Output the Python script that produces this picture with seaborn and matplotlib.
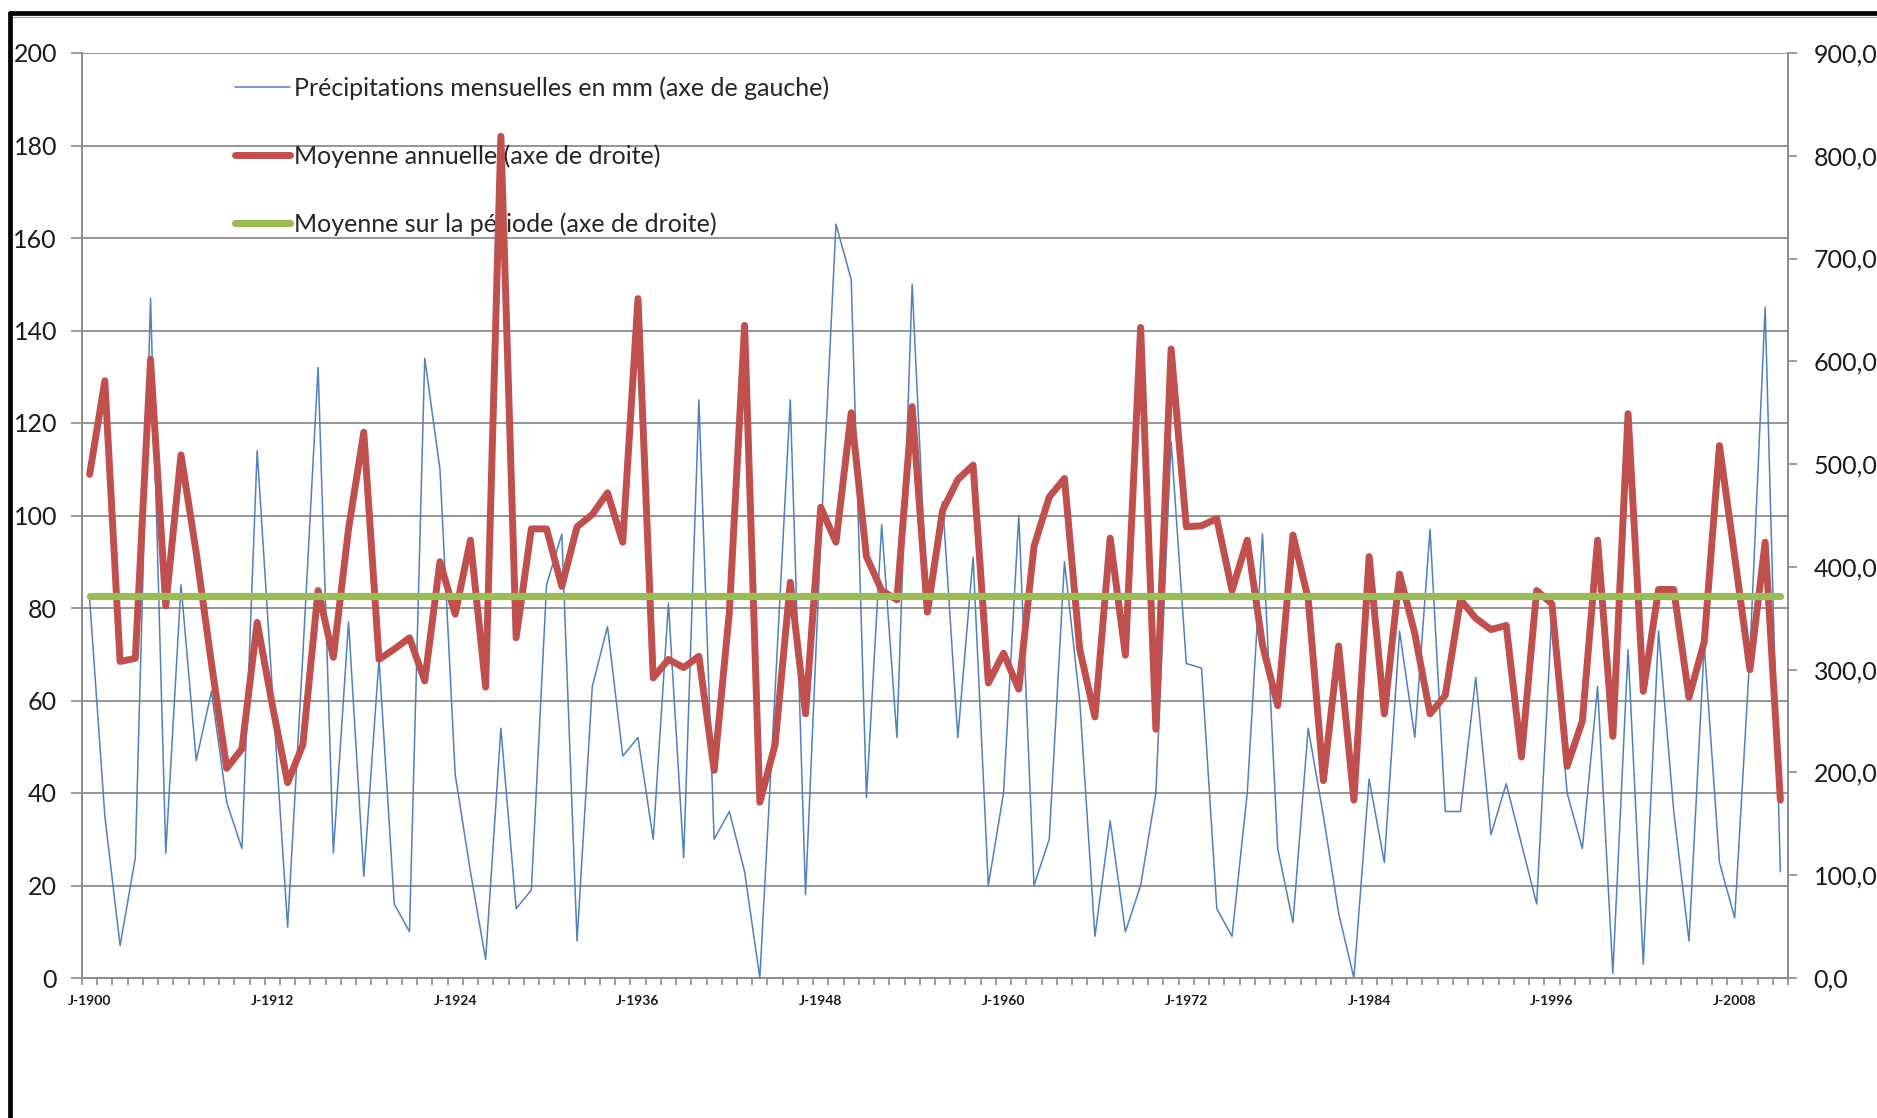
import numpy as np
import pandas as pd
import seaborn as sns
import matplotlib.pyplot as plt
from matplotlib.lines import Line2D
from matplotlib.ticker import FuncFormatter, FixedLocator

# années (une valeur par an, de janvier 1900 à 2011)
annees = list(range(1900, 2012))

# précipitations mensuelles en mm (axe de gauche)
precip_mensuelle = [
    82, 35, 7, 26, 147, 27, 85, 47, 62, 38,
    28, 114, 62, 11, 70, 132, 27, 77, 22, 69,
    16, 10, 134, 110, 44, 23, 4, 54, 15, 19,
    85, 96, 8, 63, 76, 48, 52, 30, 81, 26,
    125, 30, 36, 23, 0, 62, 125, 18, 95, 163,
    151, 39, 98, 52, 150, 80, 103, 52, 91, 20,
    40, 100, 20, 30, 90, 60, 9, 34, 10, 20,
    40, 116, 68, 67, 15, 9, 40, 96, 28, 12,
    54, 35, 14, 0, 43, 25, 75, 52, 97, 36,
    36, 65, 31, 42, 29, 16, 79, 40, 28, 63,
    1, 71, 3, 75, 36, 8, 72, 25, 13, 70,
    145, 23,
]

# moyenne annuelle (axe de droite)
moyenne_annuelle = [
    490, 581, 308, 311, 602, 362, 509, 414, 306, 204,
    223, 346, 265, 190, 227, 377, 312, 437, 531, 310,
    320, 331, 289, 405, 354, 426, 283, 819, 331, 437,
    437, 381, 439, 451, 472, 424, 661, 292, 310, 302,
    313, 202, 356, 635, 171, 227, 385, 257, 458, 424,
    550, 410, 377, 368, 556, 356, 455, 485, 499, 287,
    316, 281, 420, 468, 486, 320, 254, 428, 314, 633,
    242, 612, 439, 440, 447, 377, 426, 324, 265, 431,
    369, 192, 323, 173, 410, 257, 393, 335, 257, 275,
    368, 350, 339, 343, 215, 377, 364, 206, 250, 426,
    235, 549, 279, 378, 378, 273, 327, 518, 410, 300,
    424, 173,
]

# moyenne sur la période (axe de droite)
moyenne_periode = 372

etiquettes_annees = [1900, 1912, 1924, 1936, 1948, 1960, 1972, 1984, 1996, 2008]

noms = ["Précipitations mensuelles en mm (axe de gauche)",
        "Moyenne annuelle (axe de droite)",
        "Moyenne sur la période (axe de droite)"]

df = pd.DataFrame({
    "annee": annees,
    "precip": precip_mensuelle,
    "moy_annuelle": moyenne_annuelle,
    "moy_periode": [moyenne_periode] * len(annees),
})

sns.set_style("white")
plt.rcParams['font.family'] = ['Lato', 'DejaVu Sans']

BLEU = "#4F81BD"
ROUGE = "#C0504D"
VERT = "#9BBB59"
GRIS = "#8C8C8C"

W, H = 1877, 1118
fig = plt.figure(figsize=(W / 100, H / 100), dpi=100)
ax = fig.add_axes([82 / W, 1 - 978 / H, (1788 - 82) / W, (978 - 53) / H])
ax2 = ax.twinx()

sns.lineplot(data=df, x="annee", y="precip", ax=ax, color=BLEU, lw=1.1, label=noms[0])
sns.lineplot(data=df, x="annee", y="moy_annuelle", ax=ax2, color=ROUGE, lw=5,
             label=noms[1], solid_capstyle="round")
sns.lineplot(data=df, x="annee", y="moy_periode", ax=ax2, color=VERT, lw=5.2,
             label=noms[2], solid_capstyle="round")

# axes
ax.set_xlim(1899.5, 2011.5)
ax.set_ylim(0, 200)
ax2.set_ylim(0, 900)
ax.set_yticks(range(0, 201, 20))
ax2.set_yticks(range(0, 901, 100))
ax2.yaxis.set_major_formatter(FuncFormatter(lambda v, p: f"{v:.1f}".replace(".", ",")))

ax.set_xticks(etiquettes_annees)
ax.set_xticklabels([f"J-{a}" for a in etiquettes_annees], fontsize=10, fontweight="bold", color="#1a1a1a")
ax.xaxis.set_minor_locator(FixedLocator(np.arange(1899.5, 2012, 1.0)))
ax.tick_params(axis="x", which="major", length=0, pad=12)
ax.tick_params(axis="x", which="minor", length=5, width=1.2, color=GRIS, direction="out", bottom=True)
ax.tick_params(axis="y", which="major", length=8, width=1.2, color=GRIS, direction="out",
               labelsize=18, labelcolor="#1a1a1a", pad=10, left=True)
ax2.tick_params(axis="y", which="major", length=6.5, width=1.2, color=GRIS, direction="out",
                labelsize=18, labelcolor="#1a1a1a", pad=12, right=True)

ax.set_xlabel("")
ax.set_ylabel("")
ax2.set_ylabel("")

ax.grid(axis="y", color=GRIS, lw=1.3)
ax.grid(axis="x", visible=False)
ax.set_axisbelow(True)

for a in (ax, ax2):
    a.spines["top"].set_visible(False)
    for s in ("left", "right", "bottom"):
        a.spines[s].set_color(GRIS)
        a.spines[s].set_linewidth(1.3)

# légende (sous les courbes de l'axe de droite)
h1, l1 = ax.get_legend_handles_labels()
h2, l2 = ax2.get_legend_handles_labels()
ax2.get_legend().remove()
ax.legend(h1 + h2, l1 + l2, loc="upper left", bbox_to_anchor=(235 / W, 1 - 76 / H),
          bbox_transform=fig.transFigure, frameon=False, fontsize=18, handlelength=2.2,
          handletextpad=0.15, labelspacing=1.78, borderpad=0, borderaxespad=0)

# cadre de l'image
fig.add_artist(Line2D([10 / W, 1], [1 - 13 / H, 1 - 13 / H], color="black", lw=3.4))
fig.add_artist(Line2D([10 / W, 10 / W], [0, 1 - 13 / H], color="black", lw=3.4))
fig.add_artist(Line2D([13 / W, 1], [1 - 17 / H, 1 - 17 / H], color="#b0b0b0", lw=1))

fig.savefig("out.png", dpi=100)
